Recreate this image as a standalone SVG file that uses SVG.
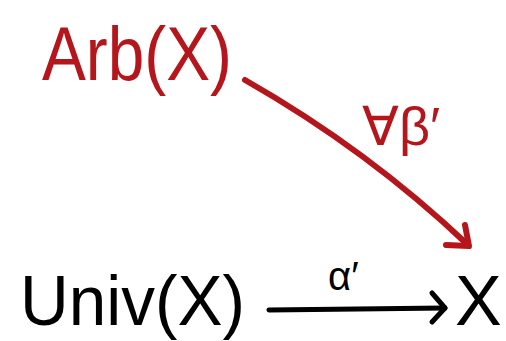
<svg xmlns="http://www.w3.org/2000/svg" width="506" height="341" viewBox="0 0 506 341">
<style>
.red{fill:#b5161b;font-family:"Liberation Sans",sans-serif}
.blk{fill:#000;font-family:"Liberation Sans",sans-serif}
.rl{fill:none;stroke:#b5161b;stroke-width:6;stroke-linecap:round;stroke-linejoin:round}
.bl{fill:none;stroke:#000;stroke-width:5;stroke-linecap:round;stroke-linejoin:round}
</style>
<rect width="506" height="341" fill="#fff"/>
<g id="arb"><text class="red" x="42" y="80" font-size="76" textLength="190" lengthAdjust="spacingAndGlyphs">Arb(X)</text></g>
<g id="univ"><text class="blk" x="20" y="325" font-size="70" textLength="225" lengthAdjust="spacingAndGlyphs">Univ(X)</text></g>
<g id="x"><text class="blk" x="455" y="325" font-size="70">X</text></g>
<g id="connectors">
<path class="rl" d="M245 80 Q368 150 468 245"/>
<path class="rl" d="M446 245 L469 246 L465 225"/>
<path class="bl" d="M269 310 L445 308"/>
<path class="bl" d="M432 293 L445 308 L432 322"/>
</g>
<g id="labels">
<text class="red" x="362" y="145" font-size="54">∀β′</text>
<text class="blk" x="328" y="290" font-size="40">α′</text>
</g>
</svg>
